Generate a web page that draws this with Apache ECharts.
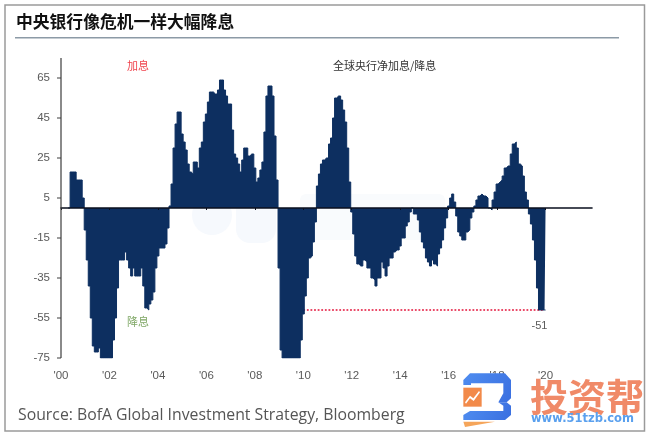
<!DOCTYPE html>
<html><head><meta charset="utf-8">
<style>html,body{margin:0;padding:0;background:#fff}#c{width:650px;height:437px;filter:blur(0.4px)}</style>
<script src="https://cdn.jsdelivr.net/npm/echarts@6/dist/echarts.min.js"></script>
</head><body><div id="c"></div>
<script>
const titleText = '中央银行像危机一样大幅降息';
const chartLabel = '全球央行净加息/降息';
const hikeLabel = '加息';
const cutLabel = '降息';
const sourceText = 'Source: BofA Global Investment Strategy, Bloomberg';
const yearLabels = ["'00","'02","'04","'06","'08","'10","'12","'14","'16","'18","'20"];
const yTicks = [-75,-55,-35,-15,5,25,45,65];
const endLabel = '-51';
// monthly, net hikes minus cuts, Jan 2000 onward (clipped at -75 as in the picture)
const net2000 = [null,null,null,null,0,18,18,18,14,14,14,5];
const net2001 = [-11,-26,-39,-55,-69,-72,-72,-70,-75,-75,-75,-75];
const net2002 = [-75,-75,-66,-55,-40,-26,-26,-26,-22,-26,-30,-34];
const net2003 = [-30,-34,-34,-34,-30,-39,-50,-51,-48,-46,-42,-30];
const net2004 = [-24,-20,-20,-20,-18,-10,1,12,30,42,48,48];
const net2005 = [37,33,29,22,18,17,23,23,20,30,33,43];
const net2006 = [47,53,58,58,57,57,59,64,64,59,56,52];
const net2007 = [52,39,27,25,22,18,24,30,30,26,27,27];
const net2008 = [20,13,15,19,23,38,56,61,61,56,36,14];
const net2009 = [-30,-71,-75,-75,-75,-75,-75,-75,-75,-75,-75,-66];
const net2010 = [-53,-44,-35,-25,-24,-17,-7,11,17,22,24,25];
const net2011 = [25,32,35,45,55,56,56,54,49,43,30,13];
const net2012 = [-2,-13,-24,-28,-29,-29,-26,-27,-30,-30,-35,-36];
const net2013 = [-39,-35,-35,-27,-30,-34,-29,-25,-25,-22,-21,-21];
const net2014 = [-19,-15,-15,-9,-7,-2,0,-3,-3,-6,-12,-17];
const net2015 = [-20,-25,-27,-29,-26,-28,-29,-23,-20,-16,-10,-5];
const net2016 = [1,5,7,3,-4,-12,-14,-16,-16,-12,-11,-5];
const net2017 = [-2,1,4,6,7,6,6,5,0,-1,4,8];
const net2018 = [12,13,14,16,20,21,21,27,32,33,30,22];
const net2019 = [21,16,8,4,-3,-8,-16,-26,-40,-51,-51,-51];
const net2020 = [-51];

const values = [].concat(net2000,net2001,net2002,net2003,net2004,net2005,net2006,net2007,net2008,net2009,
  net2010,net2011,net2012,net2013,net2014,net2015,net2016,net2017,net2018,net2019,net2020);
const totalMonths = 264;
const categories = [];
for (let i = 0; i < totalMonths; i++) categories.push(2000 + Math.floor(i / 12) + '-' + (i % 12 + 1));
const lastIdx = values.length - 1;

const chart = echarts.init(document.getElementById('c'), null, {renderer: 'canvas'});
const cjk = '"Noto Sans CJK SC"';
const latin = '"Liberation Sans",Arial,sans-serif';
const gray = '#5a5a5a';
const xLabel = (v, i) => (i % 24 === 0 && yearLabels[i / 24]) ? yearLabels[i / 24] : '';
const logoGrad = new echarts.graphic.LinearGradient(0, 0, 1, 1, [{offset: 0, color: '#4f8df0'}, {offset: 1, color: '#3a6fe0'}]);
const poly = (pts, fill, z) => ({type: 'polygon', z: z || 10, shape: {points: pts.map(p => [455 + p[0] / 3, 365 + p[1] / 3])}, style: {fill}});

const gridLeft = 61, gridTop = 58, gridHeight = 300;
const tickY = (t) => gridTop + (75 - t) / 150 * gridHeight;
const axisFill = '#3c3c3c';
const axisMarks = [{type: 'rect', z: 20, shape: {x: gridLeft - 0.6, y: gridTop, width: 1.2, height: gridHeight}, style: {fill: axisFill}}]
  .concat(yTicks.map(t => ({type: 'rect', z: 20, shape: {x: gridLeft - 4, y: tickY(t) - 0.5, width: 4, height: 1}, style: {fill: axisFill}})));

chart.setOption({
  animation: false,
  backgroundColor: '#fff',
  grid: {left: gridLeft, top: gridTop, width: 531, height: gridHeight, containLabel: false},
  xAxis: [
    {type: 'category', data: categories, boundaryGap: false, position: 'bottom',
     axisLine: {show: false, onZero: false}, axisTick: {show: false}, splitLine: {show: false},
     axisLabel: {interval: (i) => i % 24 === 0, formatter: xLabel, color: gray, fontSize: 11.5, fontFamily: latin, margin: 12, hideOverlap: false}},
    {type: 'category', data: categories, boundaryGap: false, position: 'bottom',
     axisLine: {show: true, onZero: true, lineStyle: {color: '#0a0f1e', width: 1.6}},
     axisTick: {show: true, interval: (i) => i % 24 === 0 && i <= 240, length: 2, lineStyle: {color: '#0a0f1e'}},
     axisLabel: {show: false}, splitLine: {show: false}, z: 5}
  ],
  yAxis: {type: 'value', position: 'left', min: -75, max: 75, interval: 5,
    axisLine: {show: false}, axisTick: {show: false},
    axisLabel: {color: gray, fontSize: 11.5, fontFamily: latin, margin: 11, customValues: yTicks},
    splitLine: {show: false}},
  series: [{
    type: 'line', step: 'middle', data: values, xAxisIndex: 0, showSymbol: false, symbol: 'none',
    connectNulls: false, clip: true,
    lineStyle: {color: '#0d2f60', width: 1}, areaStyle: {color: '#0d2f60', opacity: 1, origin: 0}, z: 2,
    markLine: {silent: true, symbol: 'none', animation: false, z: 1,
      lineStyle: {color: '#ea4a68', type: 'dotted', width: 1.8},
      label: {show: false},
      data: [[{coord: [categories[120], -51]}, {coord: [categories[lastIdx - 1], -51]}]]},
    markPoint: {silent: true, symbol: 'circle', symbolSize: 0, animation: false,
      data: [{coord: [categories[lastIdx - 3], -51], value: endLabel}],
      label: {show: true, formatter: endLabel, color: gray, fontSize: 11, fontFamily: latin, position: 'bottom', distance: 10}}
  }],
  graphic: axisMarks.concat([
    {type: 'rect', z: -5, shape: {x: 5, y: 5, width: 639.5, height: 426}, style: {fill: 'none', stroke: '#9a9a9a', lineWidth: 1.5}},
    {type: 'rect', z: 5, shape: {x: 15, y: 37, width: 604, height: 1.5}, style: {fill: '#8c9aa6'}},
    {type: 'text', z: 5, x: 16, y: 22, style: {text: titleText, font: 'bold 16.8px ' + cjk, fill: '#111', textVerticalAlign: 'middle'}},
    {type: 'text', z: 5, x: 333, y: 66, style: {text: chartLabel, font: '11px ' + cjk, fill: '#333', textVerticalAlign: 'middle'}},
    {type: 'text', z: 5, x: 127, y: 66, style: {text: hikeLabel, font: '11px ' + cjk, fill: '#f0424c', textVerticalAlign: 'middle'}},
    {type: 'text', z: 5, x: 127, y: 322, style: {text: cutLabel, font: '11px ' + cjk, fill: '#7fa765', textVerticalAlign: 'middle'}},
    {type: 'text', z: 5, x: 18, y: 415, style: {text: sourceText, font: '15.8px "Open Sans"', fill: '#555', textVerticalAlign: 'middle'}},
    // faint watermark behind the marks
    {type: 'circle', z: -2, shape: {cx: 212, cy: 215, r: 20}, style: {fill: '#f6f9fd'}},
    {type: 'rect', z: -2, shape: {x: 236, y: 195, width: 40, height: 48, r: 14}, style: {fill: '#f6f9fd'}},
    {type: 'rect', z: -2, shape: {x: 300, y: 194, width: 145, height: 46, r: 6}, style: {fill: '#f9fbfd'}},
    // site logo
    poly([[25,45],[45,25],[150,25],[168,45],[168,100],[155,112],[130,112],[145,85],[145,55],[48,55],[48,60],[25,60]], logoGrad),
    poly([[130,112],[155,112],[168,122],[168,150],[150,165],[25,165],[25,150],[45,138],[145,138],[145,122]], logoGrad),
    poly([[25,68],[80,68],[80,125],[25,125]], '#f28a4a'),
    poly([[30,112],[45,92],[55,100],[72,78],[75,82],[56,108],[45,100],[33,116]], '#fff', 11),
    poly([[25,170],[120,170],[30,186]], '#f5a55a'),
    {type: 'text', z: 10, x: 530, y: 397, style: {text: '投资帮', font: 'bold 38px ' + cjk, fill: '#f08a68', textVerticalAlign: 'middle'}},
    {type: 'text', z: 10, x: 531, y: 419, style: {text: 'www.51tzb.com', font: 'bold 11.5px "DejaVu Sans"', fill: '#5aa0ee', textVerticalAlign: 'middle'}}
  ])
});
</script></body></html>
